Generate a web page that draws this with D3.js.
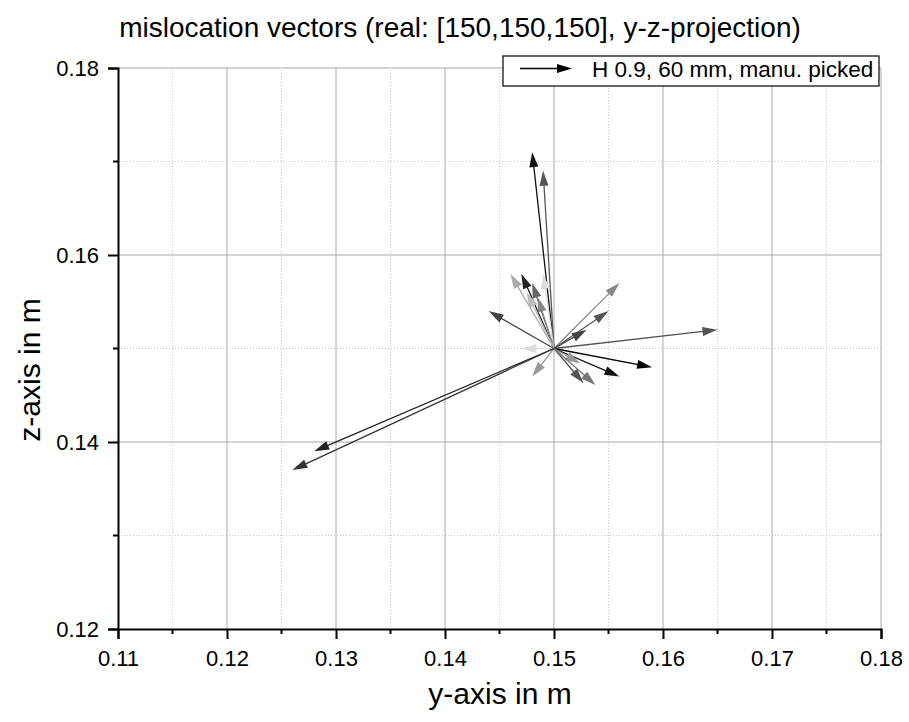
<!DOCTYPE html>
<html>
<head>
<meta charset="utf-8">
<script src="https://cdn.jsdelivr.net/npm/d3@7"></script>
<style>
  body { margin: 0; background: #fff; }
  text { font-family: "Liberation Sans", Arial, sans-serif; }
</style>
</head>
<body>
<script>
var w = 909;
var h = 722;

// origin of all vectors (true position, m)
var origin = [0.15, 0.15];

// arrow tips (y, z in m) and grey tone of each vector
var tipY = [0.148, 0.149, 0.146, 0.147, 0.149, 0.148, 0.1485, 0.1475, 0.144, 0.156, 0.155, 0.153,
            0.165, 0.159, 0.156, 0.1524, 0.1527, 0.1538, 0.148, 0.147, 0.128, 0.126];
var tipZ = [0.171, 0.169, 0.158, 0.158, 0.158, 0.157, 0.1555, 0.156, 0.154, 0.157, 0.154, 0.152,
            0.152, 0.148, 0.147, 0.1484, 0.1463, 0.1461, 0.147, 0.150, 0.139, 0.137];
var tone = ["#111", "#555", "#aaa", "#222", "#ddd", "#666", "#888", "#bbb", "#444", "#888", "#555", "#444",
            "#555", "#000", "#111", "#999", "#555", "#777", "#999", "#ddd", "#222", "#333"];

var xTicks = [0.11, 0.12, 0.13, 0.14, 0.15, 0.16, 0.17, 0.18];
var yTicks = [0.12, 0.14, 0.16, 0.18];

var m = {left: 118, top: 68, right: 28, bottom: 93};

var x = d3.scaleLinear().domain([0.11, 0.18]).range([m.left, w - m.right]);
var y = d3.scaleLinear().domain([0.12, 0.18]).range([h - m.bottom, m.top]);

var svg = d3.select("body").append("svg")
  .attr("width", w)
  .attr("height", h);

// minor grid (dotted)
var xMinor = d3.range(0.115, 0.18, 0.01);
var yMinor = [0.13, 0.15, 0.17];
svg.selectAll(".gxm").data(xMinor).enter().append("line")
  .attr("x1", function(d) { return x(d); }).attr("x2", function(d) { return x(d); })
  .attr("y1", y(0.12)).attr("y2", y(0.18))
  .attr("stroke", "#c8c8c8").attr("stroke-dasharray", "1,2");
svg.selectAll(".gym").data(yMinor).enter().append("line")
  .attr("y1", function(d) { return y(d); }).attr("y2", function(d) { return y(d); })
  .attr("x1", x(0.11)).attr("x2", x(0.18))
  .attr("stroke", "#c8c8c8").attr("stroke-dasharray", "1,2");

// major grid
svg.selectAll(".gx").data(xTicks.slice(1)).enter().append("line")
  .attr("x1", function(d) { return x(d); }).attr("x2", function(d) { return x(d); })
  .attr("y1", y(0.12)).attr("y2", y(0.18))
  .attr("stroke", "#aaa");
svg.selectAll(".gy").data(yTicks.slice(1)).enter().append("line")
  .attr("y1", function(d) { return y(d); }).attr("y2", function(d) { return y(d); })
  .attr("x1", x(0.11)).attr("x2", x(0.18))
  .attr("stroke", "#aaa");

// vectors
var vecs = tipY.map(function(d, i) { return {y: d, z: tipZ[i], c: tone[i]}; });

function headPoints(x0, y0, x1, y1, len, half) {
  var a = Math.atan2(y1 - y0, x1 - x0);
  var bx = x1 - len * Math.cos(a), by = y1 - len * Math.sin(a);
  var px = -Math.sin(a) * half, py = Math.cos(a) * half;
  return [[x1, y1], [bx + px, by + py], [bx - px, by - py]];
}

var g = svg.append("g");
vecs.forEach(function(v) {
  var x0 = x(origin[0]), y0 = y(origin[1]), x1 = x(v.y), y1 = y(v.z);
  var a = Math.atan2(y1 - y0, x1 - x0);
  g.append("line")
    .attr("x1", x0).attr("y1", y0)
    .attr("x2", x1 - 10 * Math.cos(a)).attr("y2", y1 - 10 * Math.sin(a))
    .attr("stroke", v.c).attr("stroke-width", 1.3);
  g.append("polygon")
    .attr("points", headPoints(x0, y0, x1, y1, 15, 4.5).join(" "))
    .attr("fill", v.c);
});

// axes
var xAxis = d3.axisBottom(x).tickValues(xTicks).tickSize(10).tickPadding(11).tickFormat(d3.format(".2f"));
var yAxis = d3.axisLeft(y).tickValues(yTicks).tickSize(10).tickPadding(9).tickFormat(d3.format(".2f"));

var gx = svg.append("g").attr("transform", "translate(0," + y(0.12) + ")").call(xAxis);
var gy = svg.append("g").attr("transform", "translate(" + x(0.11) + ",0)").call(yAxis);

[gx, gy].forEach(function(ax) {
  ax.attr("font-size", null).attr("font-family", null);
  ax.select(".domain").attr("stroke", "#000").attr("stroke-width", 2);
  ax.selectAll(".tick line").attr("stroke", "#000").attr("stroke-width", 2);
  ax.selectAll(".tick text").attr("font-size", "22px").attr("fill", "#000");
});

// minor ticks
gx.selectAll(".mt").data(xMinor).enter().append("line")
  .attr("x1", function(d) { return x(d); }).attr("x2", function(d) { return x(d); })
  .attr("y1", 0).attr("y2", 5).attr("stroke", "#000").attr("stroke-width", 2);
gy.selectAll(".mt").data(yMinor).enter().append("line")
  .attr("y1", function(d) { return y(d); }).attr("y2", function(d) { return y(d); })
  .attr("x1", 0).attr("x2", -5).attr("stroke", "#000").attr("stroke-width", 2);

// titles
svg.append("text")
  .attr("x", 460).attr("y", 37)
  .attr("text-anchor", "middle").attr("font-size", "28px")
  .text("mislocation vectors (real: [150,150,150], y-z-projection)");

svg.append("text")
  .attr("x", 500).attr("y", 704)
  .attr("text-anchor", "middle").attr("font-size", "30px")
  .text("y-axis in m");

svg.append("text")
  .attr("transform", "translate(40,370) rotate(-90)")
  .attr("text-anchor", "middle").attr("font-size", "30px")
  .text("z-axis in m");

// legend
var lg = svg.append("g");
lg.append("rect")
  .attr("x", 503).attr("y", 56).attr("width", 376).attr("height", 30)
  .attr("fill", "#fff").attr("stroke", "#000").attr("stroke-width", 1.2);
lg.append("line")
  .attr("x1", 520).attr("y1", 68.5).attr("x2", 560).attr("y2", 68.5)
  .attr("stroke", "#000").attr("stroke-width", 1.3);
lg.append("polygon")
  .attr("points", headPoints(520, 68.5, 572, 68.5, 15, 4.5).join(" "))
  .attr("fill", "#000");
lg.append("text")
  .attr("x", 592).attr("y", 77)
  .attr("font-size", "22.5px")
  .text("H 0.9, 60 mm, manu. picked");
</script>
</body>
</html>
